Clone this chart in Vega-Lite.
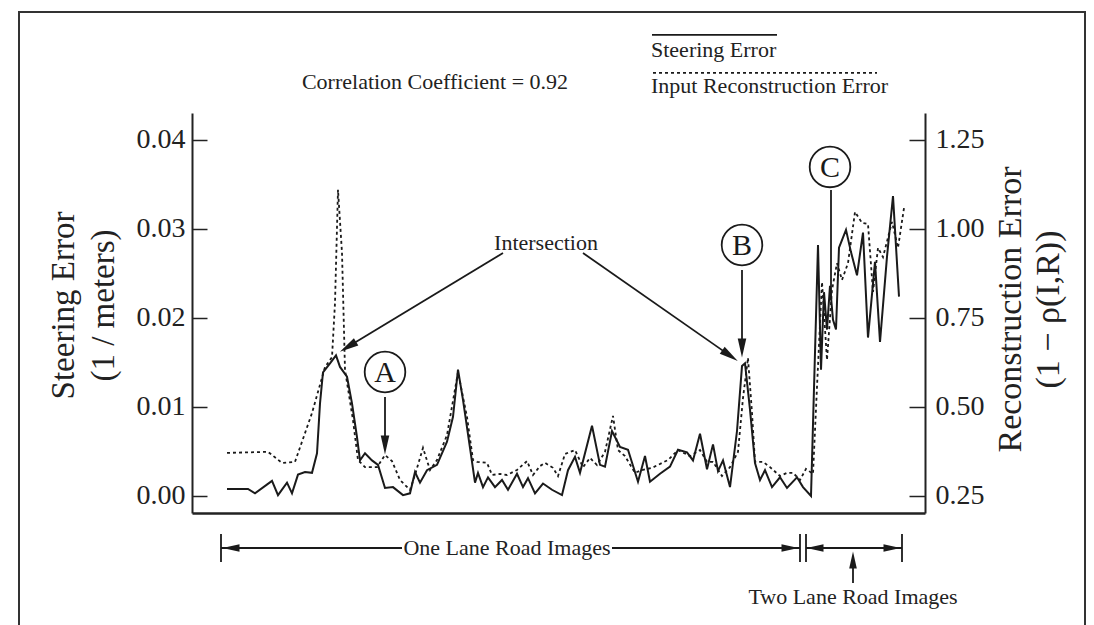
{
  "$schema": "https://vega.github.io/schema/vega-lite/v6.json",
  "width": 733,
  "height": 400,
  "autosize": {"type": "none"},
  "padding": {"left": 192, "top": 113, "right": 169, "bottom": 112},
  "background": "white",
  "config": {
    "view": {"stroke": null},
    "font": "Liberation Serif",
    "axis": {"grid": false, "labelFont": "Liberation Serif", "titleFont": "Liberation Serif", "labelColor": "#222", "titleColor": "#222", "domainColor": "#222", "tickColor": "#222", "titleFontWeight": "normal"}
  },
  "resolve": {"scale": {"y": "independent"}},
  "layer": [
    {
      "encoding": {
        "x": {"field": "image", "type": "quantitative", "scale": {"domain": [0, 733], "nice": false, "zero": false},
              "axis": {"labels": false, "ticks": false, "title": null, "domainWidth": 2.5}},
        "y": {"field": "steering", "type": "quantitative", "scale": {"domain": [-0.00191, 0.04303], "nice": false, "zero": false},
              "axis": {"orient": "left", "values": [0, 0.01, 0.02, 0.03, 0.04], "format": ".2f", "labelFontSize": 28, "tickSize": -15, "tickWidth": 1.5, "labelPadding": 22, "domainWidth": 2,
                       "title": ["Steering Error", "(1 / meters)"], "titleFontSize": 33, "titleAngle": -90, "titleX": -129, "titleY": 192, "titleAlign": "center", "titleBaseline": "middle", "titleLineHeight": 40}}
      },
      "layer": [
        {
          "data": {"values": [
            {"image":35,"steering":0.0008},{"image":56,"steering":0.0008},{"image":63,"steering":0.0003},{"image":80,"steering":0.0017},
            {"image":86,"steering":0.0001},{"image":95,"steering":0.0015},{"image":100,"steering":0.0003},{"image":106,"steering":0.0024},
            {"image":113,"steering":0.0027},{"image":120,"steering":0.0026},{"image":125,"steering":0.0048},{"image":128,"steering":0.0104},
            {"image":131,"steering":0.0139},{"image":138,"steering":0.0149},{"image":144,"steering":0.0158},{"image":148,"steering":0.0145},
            {"image":155,"steering":0.0134},{"image":160,"steering":0.0104},{"image":165,"steering":0.0066},{"image":168,"steering":0.0040},
            {"image":173,"steering":0.0048},{"image":180,"steering":0.0040},{"image":186,"steering":0.0035},{"image":193,"steering":0.0009},
            {"image":201,"steering":0.0010},{"image":211,"steering":0.0001},{"image":218,"steering":0.0003},{"image":223,"steering":0.0027},
            {"image":228,"steering":0.0015},{"image":235,"steering":0.0029},{"image":245,"steering":0.0035},{"image":255,"steering":0.0061},
            {"image":261,"steering":0.0089},{"image":266,"steering":0.0142},{"image":271,"steering":0.0108},{"image":278,"steering":0.0054},
            {"image":283,"steering":0.0015},{"image":286,"steering":0.0026},{"image":291,"steering":0.0010},{"image":296,"steering":0.0021},
            {"image":303,"steering":0.0010},{"image":310,"steering":0.0018},{"image":316,"steering":0.0007},{"image":325,"steering":0.0025},
            {"image":331,"steering":0.0010},{"image":336,"steering":0.0020},{"image":343,"steering":0.0003},{"image":351,"steering":0.0014},
            {"image":360,"steering":0.0007},{"image":370,"steering":0.0001},{"image":376,"steering":0.0029},{"image":383,"steering":0.0044},
            {"image":388,"steering":0.0026},{"image":400,"steering":0.0079},{"image":408,"steering":0.0035},{"image":413,"steering":0.0033},
            {"image":420,"steering":0.0073},{"image":428,"steering":0.0055},{"image":436,"steering":0.0052},{"image":446,"steering":0.0016},
            {"image":453,"steering":0.0045},{"image":458,"steering":0.0016},{"image":468,"steering":0.0025},{"image":478,"steering":0.0033},
            {"image":486,"steering":0.0052},{"image":495,"steering":0.0049},{"image":501,"steering":0.0040},{"image":508,"steering":0.0070},
            {"image":515,"steering":0.0030},{"image":521,"steering":0.0058},{"image":526,"steering":0.0028},{"image":531,"steering":0.0040},
            {"image":538,"steering":0.0010},{"image":545,"steering":0.0073},{"image":550,"steering":0.0146},{"image":553,"steering":0.0149},
            {"image":558,"steering":0.0097},{"image":563,"steering":0.0037},{"image":568,"steering":0.0018},{"image":573,"steering":0.0029},
            {"image":580,"steering":0.0010},{"image":588,"steering":0.0021},{"image":595,"steering":0.0009},{"image":605,"steering":0.0021},
            {"image":611,"steering":0.0010},{"image":619,"steering":0.0000},{"image":626,"steering":0.0282},{"image":629,"steering":0.0142},
            {"image":632,"steering":0.0229},{"image":635,"steering":0.0187},{"image":638,"steering":0.0236},{"image":641,"steering":0.0198},
            {"image":644,"steering":0.0187},{"image":647,"steering":0.0279},{"image":654,"steering":0.0299},{"image":659,"steering":0.0274},
            {"image":665,"steering":0.0248},{"image":671,"steering":0.0296},{"image":676,"steering":0.0178},{"image":683,"steering":0.0263},
            {"image":688,"steering":0.0173},{"image":695,"steering":0.0269},{"image":701,"steering":0.0337},{"image":707,"steering":0.0224}
          ]},
          "mark": {"type": "line", "color": "#1a1a1a", "strokeWidth": 2}
        },
        {
          "data": {"values": [{"image": -173, "image2": 893, "steering": 0.05438, "steering2": -0.0162}]},
          "mark": {"type": "rect", "fill": null, "fillOpacity": 0, "stroke": "#333", "strokeWidth": 2},
          "encoding": {"x2": {"field": "image2"}, "y2": {"field": "steering2"}}
        },
        {
          "data": {"values": [
            {"image": 311, "steering": 0.0273, "image2": 156, "steering2": 0.01677},
            {"image": 391, "steering": 0.0273, "image2": 538, "steering2": 0.01577},
            {"image": 193, "steering": 0.01112, "image2": 193, "steering2": 0.00573},
            {"image": 550, "steering": 0.0254, "image2": 550, "steering2": 0.01663},
            {"image": 639, "steering": 0.03438, "image2": 639, "steering2": 0.02202},
            {"image": 29, "steering": -0.00584, "image2": 210, "steering2": -0.00584},
            {"image": 420, "steering": -0.00584, "image2": 608, "steering2": -0.00584},
            {"image": 614, "steering": -0.00584, "image2": 710, "steering2": -0.00584},
            {"image": 29, "steering": -0.00427, "image2": 29, "steering2": -0.00742},
            {"image": 608, "steering": -0.00427, "image2": 608, "steering2": -0.00742},
            {"image": 614, "steering": -0.00427, "image2": 614, "steering2": -0.00742},
            {"image": 710, "steering": -0.00427, "image2": 710, "steering2": -0.00742},
            {"image": 661, "steering": -0.00978, "image2": 661, "steering2": -0.00697},
            {"image": 460, "steering": 0.0518, "image2": 585, "steering2": 0.0518}
          ]},
          "mark": {"type": "rule", "color": "#1a1a1a", "strokeWidth": 1.8},
          "encoding": {"x2": {"field": "image2"}, "y2": {"field": "steering2"}}
        },
        {
          "data": {"values": [{"image": 461, "steering": 0.04753, "image2": 685, "steering2": 0.04753}]},
          "mark": {"type": "rule", "color": "#1a1a1a", "strokeWidth": 1.8, "strokeDash": [3, 3]},
          "encoding": {"x2": {"field": "image2"}, "y2": {"field": "steering2"}}
        },
        {
          "data": {"values": [{"image": 156, "steering": 0.01677}]},
          "mark": {"type": "point", "shape": "M0,-1L0.45,1L-0.45,1Z", "size": 361, "filled": true, "color": "#1a1a1a", "opacity": 1, "angle": 238.7}
        },
        {
          "data": {"values": [{"image": 538, "steering": 0.01577}]},
          "mark": {"type": "point", "shape": "M0,-1L0.45,1L-0.45,1Z", "size": 361, "filled": true, "color": "#1a1a1a", "opacity": 1, "angle": 125.1}
        },
        {
          "data": {"values": [{"image": 193, "steering": 0.00573}, {"image": 550, "steering": 0.01663}]},
          "mark": {"type": "point", "shape": "M0,-1L0.45,1L-0.45,1Z", "size": 361, "filled": true, "color": "#1a1a1a", "opacity": 1, "angle": 180}
        },
        {
          "data": {"values": [{"image": 39, "steering": -0.00584}, {"image": 623, "steering": -0.00584}]},
          "mark": {"type": "point", "shape": "M0,-1L0.45,1L-0.45,1Z", "size": 289, "filled": true, "color": "#1a1a1a", "opacity": 1, "angle": 270}
        },
        {
          "data": {"values": [{"image": 598, "steering": -0.00584}, {"image": 700, "steering": -0.00584}]},
          "mark": {"type": "point", "shape": "M0,-1L0.45,1L-0.45,1Z", "size": 289, "filled": true, "color": "#1a1a1a", "opacity": 1, "angle": 90}
        },
        {
          "data": {"values": [{"image": 661, "steering": -0.00719}]},
          "mark": {"type": "point", "shape": "M0,-1L0.45,1L-0.45,1Z", "size": 289, "filled": true, "color": "#1a1a1a", "opacity": 1, "angle": 0}
        },
        {
          "data": {"values": [{"image": 193, "steering": 0.01393}, {"image": 550, "steering": 0.0282}, {"image": 638, "steering": 0.03697}]},
          "mark": {"type": "point", "shape": "circle", "size": 1650, "filled": false, "stroke": "#1a1a1a", "strokeWidth": 1.8, "opacity": 1}
        },
        {
          "data": {"values": [{"image": 193, "steering": 0.01393, "label": "A"}, {"image": 550, "steering": 0.0282, "label": "B"}, {"image": 638, "steering": 0.03697, "label": "C"}]},
          "mark": {"type": "text", "font": "Liberation Serif", "fontSize": 30, "color": "#1a1a1a", "align": "center", "baseline": "middle", "dy": 1},
          "encoding": {"text": {"field": "label"}}
        },
        {
          "data": {"values": [
            {"image": 354, "steering": 0.02843, "label": "Intersection"},
            {"image": 243, "steering": 0.04652, "label": "Correlation Coefficient = 0.92"},
            {"image": 315, "steering": -0.00584, "label": "One Lane Road Images"},
            {"image": 661, "steering": -0.01135, "label": "Two Lane Road Images"}
          ]},
          "mark": {"type": "text", "font": "Liberation Serif", "fontSize": 22, "color": "#222", "align": "center", "baseline": "middle"},
          "encoding": {"text": {"field": "label"}}
        },
        {
          "data": {"values": [
            {"image": 459, "steering": 0.0501, "label": "Steering Error"},
            {"image": 459, "steering": 0.04607, "label": "Input Reconstruction Error"}
          ]},
          "mark": {"type": "text", "font": "Liberation Serif", "fontSize": 22, "color": "#222", "align": "left", "baseline": "middle"},
          "encoding": {"text": {"field": "label"}}
        }
      ]
    },
    {
      "data": {"values": [
        {"image":35,"recon":0.371},{"image":76,"recon":0.374},{"image":90,"recon":0.343},{"image":103,"recon":0.346},
        {"image":120,"recon":0.483},{"image":133,"recon":0.612},{"image":140,"recon":0.640},{"image":143,"recon":0.792},
        {"image":146,"recon":1.110},{"image":150,"recon":0.933},{"image":153,"recon":0.604},{"image":161,"recon":0.463},
        {"image":166,"recon":0.351},{"image":173,"recon":0.331},{"image":185,"recon":0.331},{"image":193,"recon":0.365},
        {"image":200,"recon":0.348},{"image":208,"recon":0.295},{"image":218,"recon":0.267},{"image":223,"recon":0.309},
        {"image":231,"recon":0.385},{"image":238,"recon":0.323},{"image":245,"recon":0.351},{"image":255,"recon":0.421},
        {"image":266,"recon":0.598},{"image":275,"recon":0.472},{"image":281,"recon":0.351},{"image":285,"recon":0.346},
        {"image":295,"recon":0.343},{"image":300,"recon":0.309},{"image":308,"recon":0.312},{"image":315,"recon":0.309},
        {"image":325,"recon":0.323},{"image":335,"recon":0.348},{"image":341,"recon":0.309},{"image":348,"recon":0.334},
        {"image":353,"recon":0.343},{"image":361,"recon":0.329},{"image":366,"recon":0.306},{"image":373,"recon":0.368},
        {"image":383,"recon":0.379},{"image":391,"recon":0.331},{"image":398,"recon":0.357},{"image":405,"recon":0.337},
        {"image":413,"recon":0.374},{"image":421,"recon":0.475},{"image":426,"recon":0.379},{"image":433,"recon":0.362},
        {"image":443,"recon":0.315},{"image":450,"recon":0.323},{"image":460,"recon":0.329},{"image":476,"recon":0.351},
        {"image":486,"recon":0.379},{"image":498,"recon":0.362},{"image":508,"recon":0.379},{"image":515,"recon":0.346},
        {"image":521,"recon":0.346},{"image":530,"recon":0.306},{"image":538,"recon":0.331},{"image":546,"recon":0.374},
        {"image":551,"recon":0.525},{"image":556,"recon":0.638},{"image":560,"recon":0.483},{"image":563,"recon":0.346},
        {"image":571,"recon":0.346},{"image":578,"recon":0.331},{"image":588,"recon":0.306},{"image":595,"recon":0.315},
        {"image":601,"recon":0.315},{"image":608,"recon":0.295},{"image":614,"recon":0.326},{"image":621,"recon":0.312},
        {"image":625,"recon":0.556},{"image":630,"recon":0.851},{"image":635,"recon":0.632},{"image":640,"recon":0.829},
        {"image":645,"recon":0.904},{"image":650,"recon":0.857},{"image":656,"recon":0.904},{"image":663,"recon":1.048},
        {"image":670,"recon":1.017},{"image":676,"recon":1.014},{"image":681,"recon":0.823},{"image":686,"recon":0.947},
        {"image":691,"recon":0.921},{"image":700,"recon":1.020},{"image":706,"recon":0.947},{"image":712,"recon":1.059}
      ]},
      "mark": {"type": "line", "color": "#1a1a1a", "strokeWidth": 1.8, "strokeDash": [3, 3]},
      "encoding": {
        "x": {"field": "image", "type": "quantitative", "scale": {"domain": [0, 733], "nice": false, "zero": false}},
        "y": {"field": "recon", "type": "quantitative", "scale": {"domain": [0.2022, 1.3258], "nice": false, "zero": false},
              "axis": {"orient": "right", "values": [0.25, 0.5, 0.75, 1.0, 1.25], "format": ".2f", "labelFontSize": 28, "tickSize": -16, "tickWidth": 1.5, "labelPadding": 26, "domainWidth": 2,
                       "title": ["Reconstruction  Error", "(1 − ρ(I,R))"], "titleFontSize": 34, "titleAngle": -90, "titleX": 85, "titleY": 196, "titleAlign": "center", "titleBaseline": "middle", "titleLineHeight": 38}}
      }
    }
  ]
}
